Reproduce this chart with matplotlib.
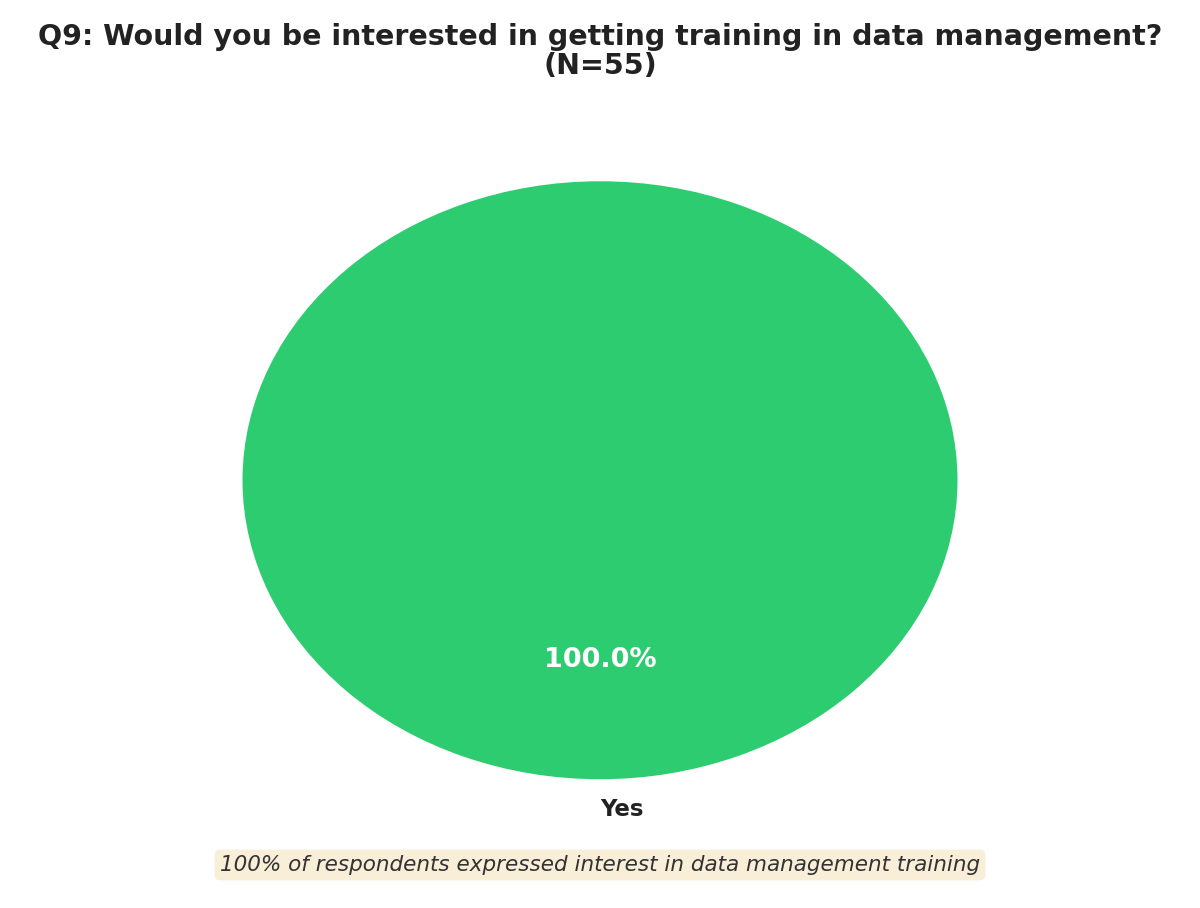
import matplotlib
matplotlib.use("Agg")
from matplotlib import pyplot as plt

# survey answers for Q9
labels = ["Yes"]
counts = [55]
colors = ["#2ecc71"]
n_total = 55

title = "Q9: Would you be interested in getting training in data management?\n(N={})".format(n_total)
note = "100% of respondents expressed interest in data management training"

fig = plt.figure(figsize=(12, 9.08), dpi=100)
# axes placed so the pie comes out as the stretched ellipse in the reference
ax = fig.add_axes([0.1276, 0.0595, 0.7448, 0.8232])

wedges, texts, autotexts = ax.pie(counts, labels=labels, colors=colors,
                                  autopct="%1.1f%%", startangle=90,
                                  textprops={"fontsize": 16.5, "fontweight": "bold", "color": "#222222"})
for t in autotexts:
    t.set_color("white")
    t.set_fontsize(19.5)
    t.set_fontweight("bold")

ax.set_aspect("auto")
ax.set_xlim(-1.25, 1.25)
ax.set_ylim(-1.25, 1.25)

fig.suptitle(title, fontsize=20.5, fontweight="bold", color="#222222", y=0.975, va="top",
             linespacing=1.05)

fig.text(0.5, 0.0474, note, ha="center", va="center", fontsize=15.5, style="italic",
         color="#333333", bbox=dict(boxstyle="round,pad=0.25", facecolor="wheat", edgecolor="none", alpha=0.5))

fig.savefig("out.png", dpi=100)
